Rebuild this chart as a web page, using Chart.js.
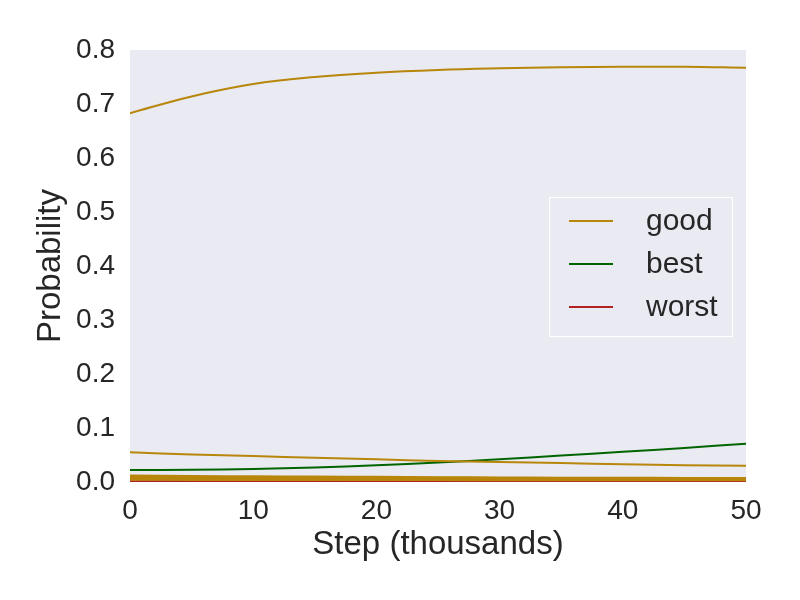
<!DOCTYPE html>
<html>
<head>
<meta charset="utf-8">
<script src="https://cdn.jsdelivr.net/npm/chart.js@4"></script>
<style>
html,body{margin:0;padding:0;background:#fff;}
#wrap{width:800px;height:600px;}
</style>
</head>
<body>
<div id="wrap"><canvas id="c" width="800" height="600"></canvas></div>
<script>
const steps = [0, 5, 10, 15, 20, 25, 30, 35, 40, 45, 50];
const goodTop   = [0.683, 0.714, 0.737, 0.750, 0.758, 0.763, 0.766, 0.768, 0.769, 0.769, 0.767];
const goodMid   = [0.055, 0.051, 0.048, 0.045, 0.042, 0.039, 0.037, 0.035, 0.033, 0.031, 0.030];
const goodLow1  = [0.012, 0.011, 0.0105, 0.010, 0.0095, 0.009, 0.0085, 0.008, 0.0078, 0.0075, 0.0072];
const goodLow2  = [0.010, 0.0095, 0.009, 0.0085, 0.008, 0.0078, 0.0075, 0.0072, 0.007, 0.0068, 0.0065];
const goodLow3  = [0.008, 0.0077, 0.0074, 0.0071, 0.0068, 0.0065, 0.0062, 0.006, 0.0058, 0.0056, 0.0055];
const goodLow4  = [0.006, 0.0058, 0.0056, 0.0054, 0.0052, 0.005, 0.0048, 0.0047, 0.0046, 0.0045, 0.0044];
const goodLow5  = [0.004, 0.0039, 0.0038, 0.0037, 0.0036, 0.0035, 0.0034, 0.0033, 0.0033, 0.0032, 0.0032];
const best      = [0.022, 0.0225, 0.024, 0.027, 0.031, 0.036, 0.042, 0.049, 0.056, 0.063, 0.071];
const worst     = [0.0012, 0.0012, 0.0012, 0.0011, 0.0011, 0.0011, 0.0011, 0.0010, 0.0010, 0.0010, 0.0010];
const yTicks = [0.0, 0.1, 0.2, 0.3, 0.4, 0.5, 0.6, 0.7, 0.8];
const xTicks = [0, 10, 20, 30, 40, 50];

const GOLD = '#B8860B', GREEN = '#006400', RED = '#B22222';
const FONT = "'Liberation Sans', Arial, sans-serif";
const TXT = '#262626';

function pts(vals){ return steps.map((s,i)=>({x:s,y:vals[i]})); }
function ds(label, vals, color, legend){
  return {label, data: pts(vals), borderColor: color, backgroundColor: color,
    borderWidth: 2, pointRadius: 0, fill: false, tension: 0.4,
    inLegend: legend};
}

const datasets = [
  ds('good', goodTop, GOLD, true),
  ds('good', goodMid, GOLD, false),
  ds('good', goodLow1, GOLD, false),
  ds('good', goodLow2, GOLD, false),
  ds('good', goodLow3, GOLD, false),
  ds('good', goodLow4, GOLD, false),
  ds('good', goodLow5, GOLD, false),
  ds('best', best, GREEN, true),
  ds('worst', worst, RED, true)
];

const bgPlugin = {
  id: 'bg',
  beforeDraw(chart){
    const {ctx, chartArea:a} = chart;
    ctx.save();
    ctx.fillStyle = '#EAEAF2';
    ctx.fillRect(a.left, a.top, a.right-a.left, a.bottom-a.top);
    ctx.restore();
  }
};

const legendPlugin = {
  id: 'customLegend',
  afterDatasetsDraw(chart){
    const ctx = chart.ctx;
    const items = chart.data.datasets.filter(d=>d.inLegend);
    const bx = 549, by = 197, bw = 184, bh = 140;
    ctx.save();
    ctx.fillStyle = 'rgba(234,234,242,0.8)';
    ctx.fillRect(bx, by, bw, bh);
    ctx.strokeStyle = '#ffffff';
    ctx.lineWidth = 1;
    ctx.strokeRect(bx+0.5, by+0.5, bw-1, bh-1);
    ctx.font = "30px " + FONT;
    ctx.textBaseline = 'middle';
    ctx.textAlign = 'left';
    items.forEach((d,i)=>{
      const y = 221 + i*43;
      ctx.strokeStyle = d.borderColor;
      ctx.lineWidth = 2;
      ctx.beginPath();
      ctx.moveTo(569, y); ctx.lineTo(613, y);
      ctx.stroke();
      ctx.fillStyle = TXT;
      ctx.fillText(d.label, 646, y + 1);
    });
    ctx.restore();
  }
};

new Chart(document.getElementById('c'), {
  type: 'line',
  data: { datasets },
  plugins: [bgPlugin, legendPlugin],
  options: {
    responsive: false,
    animation: false,
    layout: { padding: { top: 50, right: 54, left: 0, bottom: 0 } },
    plugins: { legend: { display: false }, tooltip: { enabled: false } },
    scales: {
      x: {
        type: 'linear', min: 0, max: 50,
        afterBuildTicks(s){ s.ticks = xTicks.map(v=>({value:v})); },
        afterFit(s){ s.height = 118; },
        grid: { display: false, drawTicks: false },
        border: { display: false },
        ticks: { color: TXT, font: { family: FONT, size: 28 }, padding: 12, maxRotation: 0,
          callback: v => String(v) },
        title: { display: true, text: 'Step (thousands)', color: TXT,
          font: { family: FONT, size: 33 }, padding: { top: 0, bottom: 35 } }
      },
      y: {
        type: 'linear', min: 0, max: 0.8,
        afterBuildTicks(s){ s.ticks = yTicks.map(v=>({value:v})); },
        afterFit(s){ s.width = 130; },
        grid: { display: false, drawTicks: false },
        border: { display: false },
        ticks: { color: TXT, font: { family: FONT, size: 28 }, padding: 15,
          callback: v => v.toFixed(1) },
        title: { display: true, text: 'Probability', color: TXT,
          font: { family: FONT, size: 33 }, padding: { top: 31, bottom: 0 } }
      }
    }
  }
});
</script>
</body>
</html>
